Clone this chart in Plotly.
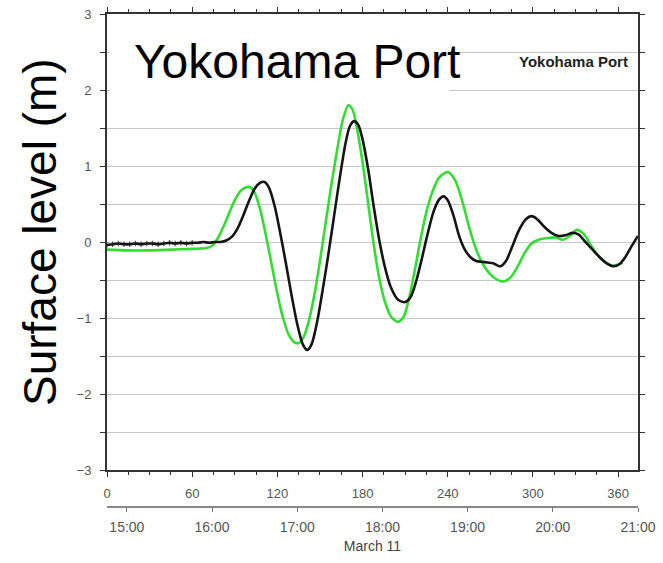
import plotly.graph_objects as go
import pandas as pd

# Minutes after the earthquake (14:46 JST, 11 March 2011)
t_obs = [0, 4, 8, 12, 16, 20, 24, 28, 32, 36, 40, 44, 48, 52, 56, 60, 64, 68, 72, 76, 80,
         84, 88, 92, 96, 100, 104, 108, 111, 114, 118, 122, 126, 130, 134, 138, 141, 144,
         148, 152, 156, 160, 164, 168, 171, 174, 177, 180, 184, 188, 192, 196, 200, 205,
         210, 214, 218, 222, 226, 230, 234, 237, 240, 244, 248, 252, 256, 260, 264, 268,
         272, 277, 281, 285, 290, 295, 299, 303, 308, 313, 318, 323, 328, 332, 337, 342,
         347, 352, 357, 361, 365, 369, 374]
h_obs = [-0.04, -0.03, -0.02, -0.03, -0.03, -0.02, -0.03, -0.02, -0.02, -0.03, -0.02, -0.01,
         -0.02, -0.01, -0.02, -0.01, -0.01, 0.0, -0.01, 0.0, 0.0,
         0.02, 0.07, 0.18, 0.35, 0.54, 0.70, 0.78, 0.79, 0.72, 0.48, 0.12, -0.28, -0.70,
         -1.08, -1.35, -1.42, -1.35, -1.05, -0.62, -0.15, 0.35, 0.85, 1.30, 1.52, 1.59,
         1.54, 1.35, 0.95, 0.45, 0.0, -0.35, -0.60, -0.76, -0.79, -0.72, -0.50, -0.20,
         0.12, 0.40, 0.56, 0.60, 0.55, 0.35, 0.08, -0.10, -0.20, -0.25, -0.26, -0.27,
         -0.28, -0.32, -0.25, -0.08, 0.15, 0.30, 0.34, 0.30, 0.20, 0.12, 0.08, 0.09, 0.12,
         0.10, 0.0, -0.10, -0.20, -0.28, -0.32, -0.29, -0.20, -0.07, 0.08]

t_sim = [0, 15, 30, 45, 60, 70, 74, 78, 82, 86, 90, 94, 98, 101, 104, 108, 112, 116, 120,
         124, 128, 132, 135, 138, 142, 146, 150, 154, 158, 162, 166, 170, 173, 176, 180,
         184, 188, 192, 196, 200, 205, 209, 213, 217, 221, 225, 229, 234, 240, 245, 250,
         255, 260, 266, 272, 279, 284, 289, 294, 299, 304, 310, 316, 321, 326, 331, 336,
         341, 346, 351, 356, 360, 363]
h_sim = [-0.10, -0.11, -0.11, -0.10, -0.09, -0.08, -0.05, 0.05, 0.20, 0.38, 0.55, 0.67,
         0.72, 0.72, 0.65, 0.42, 0.08, -0.30, -0.68, -1.00, -1.22, -1.32, -1.33, -1.27,
         -1.05, -0.70, -0.25, 0.25, 0.75, 1.20, 1.60, 1.80, 1.74, 1.50, 1.05, 0.50, -0.05,
         -0.50, -0.80, -0.98, -1.05, -0.98, -0.72, -0.35, 0.05, 0.40, 0.65, 0.85, 0.92,
         0.82, 0.55, 0.20, -0.10, -0.33, -0.46, -0.52, -0.47, -0.33, -0.15, -0.02, 0.03,
         0.05, 0.06, 0.03, 0.08, 0.16, 0.10, -0.05, -0.18, -0.27, -0.31, -0.30, -0.27]

minute_ticks = [0, 60, 120, 180, 240, 300, 360]
y_ticks = [3, 2, 1, 0, -1, -2, -3]
clock_start = "2011-03-11 14:46"
clock_end = "2011-03-11 21:00"
date_label = "March 11"
station = "Yokohama Port"

# observed gauge samples are marked in the quiet part of the record
obs_marker_size = [4 if t <= 62 else 0 for t in t_obs]

FONT = "Liberation Sans, Arial, sans-serif"
tick_font = dict(family=FONT, size=13, color="#555")
axis_col = "#333"

# plot-area geometry in pixels, used to place the caption boxes
W, H = 663, 563
ML, MR, MT, MB = 107, 25, 14, 30
PW, PH = W - ML - MR, H - MT - MB


def px(xp):
    return (xp - ML) / PW


def py(yp):
    return (H - MB - yp) / PH


fig = go.Figure()
fig.add_trace(go.Scatter(
    x=t_sim, y=h_sim, mode="lines", line=dict(color="#33dd33", width=2.6, shape="spline", smoothing=0.8),
    hoverinfo="skip", showlegend=False))
fig.add_trace(go.Scatter(
    x=t_obs, y=h_obs, mode="lines+markers",
    line=dict(color="#151515", width=2.6, shape="spline", smoothing=0.8),
    marker=dict(symbol="line-ns", size=obs_marker_size, line=dict(color="#151515", width=1.3)),
    hoverinfo="skip", showlegend=False))
# clock-time axis carrier
fig.add_trace(go.Scatter(
    x=pd.to_datetime([clock_start, clock_end]), y=[None, None], xaxis="x2", yaxis="y",
    mode="lines", hoverinfo="skip", showlegend=False))

fig.update_layout(
    width=W, height=H,
    margin=dict(l=ML, r=MR, t=MT, b=MB, autoexpand=False),
    paper_bgcolor="white", plot_bgcolor="white",
    xaxis=dict(
        range=[0, 374], tickvals=minute_ticks, ticks="outside", ticklen=5, tickwidth=1.2,
        tickcolor=axis_col, minor=dict(dtick=15, ticks="outside", ticklen=3, tickcolor=axis_col),
        showline=True, linecolor=axis_col, linewidth=2, mirror="allticks",
        showgrid=False, zeroline=False, tickfont=tick_font, ticklabelstandoff=5,
        anchor="y", automargin=False),
    xaxis2=dict(
        type="date", overlaying="x", anchor="free", position=py(507), side="bottom",
        range=[clock_start, clock_end], dtick=3600000, tick0="2011-03-11 15:00",
        tickformat="%H:%M", ticks="outside", ticklen=4, tickcolor="#777",
        showline=True, linecolor="#888", linewidth=2, showgrid=False, zeroline=False,
        tickfont=dict(family=FONT, size=14, color="#555"), ticklabelstandoff=3,
        automargin=False,
        title=dict(text=date_label, standoff=6, font=dict(family=FONT, size=14, color="#444"))),
    yaxis=dict(
        range=[-3, 3], domain=[py(470), 1], tickvals=y_ticks, ticks="outside", ticklen=5,
        tickwidth=1.2, tickcolor=axis_col,
        minor=dict(dtick=0.5, ticks="outside", ticklen=4, tickcolor=axis_col,
                   showgrid=True, gridcolor="#c8c8c8", gridwidth=1.3),
        showgrid=True, gridcolor="#c8c8c8", gridwidth=1.3,
        showline=True, linecolor=axis_col, linewidth=2, mirror="allticks",
        zeroline=False, tickfont=tick_font, ticklabelstandoff=6, automargin=False),
    annotations=[
        # white panel behind the large caption
        dict(text=" ", xref="paper", yref="paper", x=px(109), y=py(16),
             xanchor="left", yanchor="top", width=339, height=79, borderpad=0,
             bgcolor="white", showarrow=False),
        dict(text=station, xref="paper", yref="paper", x=px(297), y=py(62),
             xanchor="center", yanchor="middle", showarrow=False,
             font=dict(family=FONT, size=48, color="black")),
        dict(text="<b>" + station + "</b>", xref="paper", yref="paper",
             x=px(573), y=py(61), xanchor="center", yanchor="middle", showarrow=False,
             font=dict(family=FONT, size=15, color="#222")),
        dict(text="Surface level (m)", xref="paper", yref="paper", textangle=-90,
             x=px(40), y=py(232), xanchor="center", yanchor="middle", showarrow=False,
             font=dict(family=FONT, size=46, color="black")),
    ],
)

fig.write_html("out.html")
